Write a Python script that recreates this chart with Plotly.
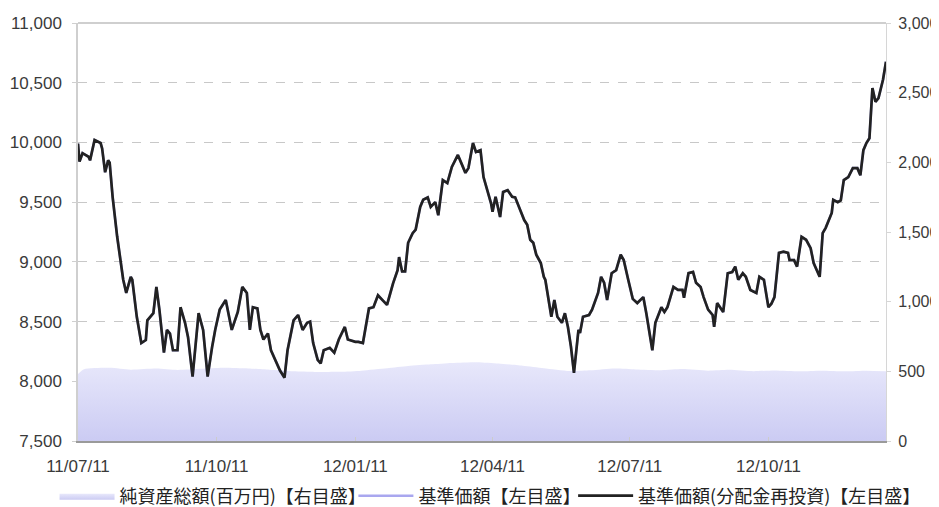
import plotly.graph_objects as go

# ---- data ----
nav_dates = [
    "2011-07-11","2011-07-12","2011-07-14","2011-07-18","2011-07-19","2011-07-22","2011-07-26","2011-07-27",
    "2011-07-29","2011-07-31","2011-08-01","2011-08-03","2011-08-06","2011-08-08","2011-08-10","2011-08-12",
    "2011-08-15","2011-08-16","2011-08-19","2011-08-22","2011-08-25","2011-08-26","2011-08-30","2011-09-01",
    "2011-09-03","2011-09-06","2011-09-08","2011-09-10","2011-09-12","2011-09-15","2011-09-17","2011-09-20",
    "2011-09-22","2011-09-25","2011-09-29","2011-10-02","2011-10-05","2011-10-08","2011-10-10","2011-10-13",
    "2011-10-17","2011-10-21","2011-10-25","2011-10-28","2011-10-31","2011-11-02","2011-11-04","2011-11-07",
    "2011-11-09","2011-11-11","2011-11-14","2011-11-16","2011-11-19","2011-11-22","2011-11-25","2011-11-27",
    "2011-12-01","2011-12-04","2011-12-07","2011-12-10","2011-12-12","2011-12-14","2011-12-17","2011-12-19",
    "2011-12-21","2011-12-25","2011-12-28","2011-12-31","2012-01-04","2012-01-06","2012-01-11","2012-01-13",
    "2012-01-16","2012-01-18","2012-01-20","2012-01-23","2012-01-26","2012-01-29","2012-02-01","2012-02-05",
    "2012-02-08","2012-02-09","2012-02-11","2012-02-13","2012-02-15","2012-02-18","2012-02-20","2012-02-23",
    "2012-02-25","2012-02-28","2012-03-01","2012-03-04","2012-03-06","2012-03-09","2012-03-12","2012-03-15",
    "2012-03-19","2012-03-21","2012-03-24","2012-03-26","2012-03-29","2012-03-31","2012-04-03","2012-04-05",
    "2012-04-08","2012-04-10","2012-04-11","2012-04-13","2012-04-16","2012-04-18","2012-04-21","2012-04-24",
    "2012-04-26","2012-04-30","2012-05-02","2012-05-04","2012-05-06","2012-05-08","2012-05-10","2012-05-13",
    "2012-05-15","2012-05-16","2012-05-18","2012-05-20","2012-05-22","2012-05-24","2012-05-27","2012-05-29",
    "2012-05-31","2012-06-02","2012-06-04","2012-06-07","2012-06-08","2012-06-10","2012-06-14","2012-06-16",
    "2012-06-20","2012-06-22","2012-06-24","2012-06-26","2012-06-29","2012-07-02","2012-07-05","2012-07-07",
    "2012-07-10","2012-07-13","2012-07-16","2012-07-20","2012-07-22","2012-07-24","2012-07-26","2012-07-28",
    "2012-08-01","2012-08-03","2012-08-05","2012-08-09","2012-08-12","2012-08-15","2012-08-16","2012-08-19",
    "2012-08-22","2012-08-24","2012-08-27","2012-08-29","2012-09-01","2012-09-04","2012-09-05","2012-09-07",
    "2012-09-11","2012-09-14","2012-09-17","2012-09-19","2012-09-21","2012-09-24","2012-09-26","2012-09-29",
    "2012-10-03","2012-10-05","2012-10-08","2012-10-11","2012-10-13","2012-10-15","2012-10-18","2012-10-21",
    "2012-10-24","2012-10-25","2012-10-28","2012-10-30","2012-11-02","2012-11-05","2012-11-08","2012-11-10",
    "2012-11-14","2012-11-16","2012-11-18","2012-11-22","2012-11-23","2012-11-26","2012-11-28","2012-11-30",
    "2012-12-03","2012-12-06","2012-12-09","2012-12-11","2012-12-13","2012-12-15","2012-12-17","2012-12-19",
    "2012-12-21","2012-12-23","2012-12-26","2012-12-28",
]
nav_reinvest = [
    9990, 9840, 9910, 9880, 9850, 10020, 9995, 9950,
    9750, 9850, 9830, 9540, 9210, 9040, 8850, 8740,
    8875, 8850, 8540, 8320, 8345, 8510, 8570, 8790,
    8600, 8240, 8430, 8400, 8260, 8260, 8620, 8490,
    8370, 8040, 8570, 8430, 8040, 8290, 8430, 8600,
    8680, 8430, 8580, 8790, 8740, 8430, 8620, 8610,
    8430, 8350, 8400, 8260, 8180, 8090, 8030, 8260,
    8510, 8555, 8430, 8490, 8500, 8320, 8180, 8150,
    8260, 8280, 8240, 8350, 8455, 8350, 8330, 8330,
    8320, 8455, 8610, 8620, 8720, 8680, 8640, 8820,
    8930, 9040, 8920, 8920, 9160, 9240, 9270, 9460,
    9520, 9540, 9460, 9500, 9390, 9685, 9660, 9795,
    9895, 9835, 9745, 9785, 9995, 9920, 9935, 9710,
    9575, 9490, 9420, 9545, 9375, 9585, 9600, 9545,
    9540, 9410, 9350, 9310, 9185, 9160, 9060, 8990,
    8875, 8850, 8705, 8540, 8680, 8540, 8490, 8570,
    8455, 8290, 8070, 8430, 8405, 8540, 8555, 8600,
    8740, 8875, 8825, 8680, 8905, 8930, 9060, 9015,
    8850, 8690, 8655, 8705, 8570, 8430, 8260, 8490,
    8620, 8580, 8620, 8790, 8765, 8765, 8700, 8905,
    8915, 8825, 8790, 8705, 8600, 8555, 8455, 8655,
    8580, 8905, 8915, 8960, 8850, 8905, 8875, 8765,
    8740, 8875, 8850, 8620, 8650, 8705, 9075, 9085,
    9075, 9015, 9015, 8960, 9210, 9185, 9115, 8990,
    8875, 9240, 9285, 9410, 9520, 9500, 9515, 9685,
    9710, 9785, 9785, 9725, 9935, 9995, 10035, 10455,
    10340, 10370, 10525, 10675,
]
# 基準価額 (no distributions paid -> same path as reinvested NAV)
nav_base = list(nav_reinvest)

asset_dates = [
    "2011-07-11","2011-07-15","2011-08-01","2011-08-15","2011-09-01","2011-09-15","2011-10-01","2011-10-15",
    "2011-11-01","2011-11-15","2011-12-01","2011-12-15","2012-01-01","2012-01-15","2012-02-01","2012-02-15",
    "2012-03-01","2012-03-15","2012-04-01","2012-04-15","2012-05-01","2012-05-15","2012-06-01","2012-06-15",
    "2012-07-01","2012-07-15","2012-08-01","2012-08-15","2012-09-01","2012-09-15","2012-10-01","2012-10-15",
    "2012-11-01","2012-11-15","2012-12-01","2012-12-15","2012-12-28",
]
net_assets = [
    480, 515, 525, 512, 520, 510, 518, 525,
    520, 512, 500, 496, 497, 505, 522, 538,
    550, 560, 566, 556, 540, 522, 502, 507,
    520, 514, 508, 516, 505, 511, 501, 506,
    500, 505, 500, 504, 500,
]

x_tickvals = ["2011-07-11", "2011-10-11", "2012-01-11", "2012-04-11", "2012-07-11", "2012-10-11"]
left_ticks = [7500, 8000, 8500, 9000, 9500, 10000, 10500, 11000]
right_ticks = [0, 500, 1000, 1500, 2000, 2500, 3000]

names = ["純資産総額(百万円)【右目盛】", "基準価額【左目盛】", "基準価額(分配金再投資)【左目盛】"]

# ---- figure ----
fig = go.Figure()

# area on the main (right-hand) axis so that it sits below the NAV lines
fig.add_trace(go.Scatter(
    x=asset_dates, y=net_assets, name=names[0], yaxis="y", legend="legend",
    mode="lines", line=dict(width=0, color="#dcdcf8", shape="spline", smoothing=0.6),
    fill="tozeroy",
    fillgradient=dict(type="vertical", start=0, stop=570,
                      colorscale=[[0, "#cbcbf3"], [1, "#e8e8fb"]]),
    hoverinfo="skip",
))
fig.add_trace(go.Scatter(
    x=nav_dates, y=nav_base, name=names[1], yaxis="y2", legend="legend2",
    mode="lines", line=dict(width=2.5, color="#a9a7ef"),
))
fig.add_trace(go.Scatter(
    x=nav_dates, y=nav_reinvest, name=names[2], yaxis="y2", legend="legend3",
    mode="lines", line=dict(width=2.7, color="#222222"),
))

tick_font = dict(family="Liberation Sans, Arial, sans-serif", size=17, color="#3a3a3a")
right_font = dict(family="Liberation Sans, Arial, sans-serif", size=16, color="#3a3a3a")
leg_font = dict(family="Noto Sans CJK JP, sans-serif", size=18, color="#222222")


def leg(xpos):
    return dict(
        orientation="h", xref="container", yref="container",
        x=xpos, xanchor="left", y=0.022, yanchor="middle",
        font=leg_font, itemwidth=55, bgcolor="rgba(0,0,0,0)",
    )


# page is rendered with an 8px body margin -> figure is 931x499 placed at (8, 8)
fig.update_layout(
    width=931, height=499,
    margin=dict(l=70, r=53, t=15, b=66, autoexpand=False),
    paper_bgcolor="white", plot_bgcolor="white",
    showlegend=True,
    legend=leg(0.050),
    legend2=leg(0.371),
    legend3=leg(0.607),
    xaxis=dict(
        type="date", range=["2011-07-11", "2012-12-28"],
        tickvals=x_tickvals, tickformat="%y/%m/%d",
        tickfont=tick_font, showgrid=False,
        showline=True, linecolor="#9a9a9a", linewidth=1.5,
        ticks="inside", ticklen=4, tickcolor="#cccccc",
        ticklabelstandoff=9, zeroline=False,
    ),
    yaxis=dict(
        range=[0, 3000], tickvals=right_ticks, tickformat=",d",
        tickfont=right_font, side="right",
        showgrid=False, showline=True, linecolor="#d6d6d6", linewidth=1.2,
        ticks="outside", ticklen=4, tickcolor="#d6d6d6",
        ticklabelstandoff=4, zeroline=False,
    ),
    yaxis2=dict(
        range=[7500, 11000], tickvals=left_ticks, tickformat=",d",
        tickfont=tick_font, side="left", overlaying="y",
        showgrid=True, gridcolor="#c8c8c8", griddash="dash", gridwidth=1,
        showline=True, linecolor="#cfcfcf", linewidth=1.5,
        ticks="outside", ticklen=4, tickcolor="#cfcfcf",
        ticklabelstandoff=7, zeroline=False,
    ),
    shapes=[
        dict(type="line", xref="paper", yref="paper", x0=0, x1=1, y0=1, y1=1,
             line=dict(color="#cfcfcf", width=2)),
    ],
)

fig.write_html("out.html")
